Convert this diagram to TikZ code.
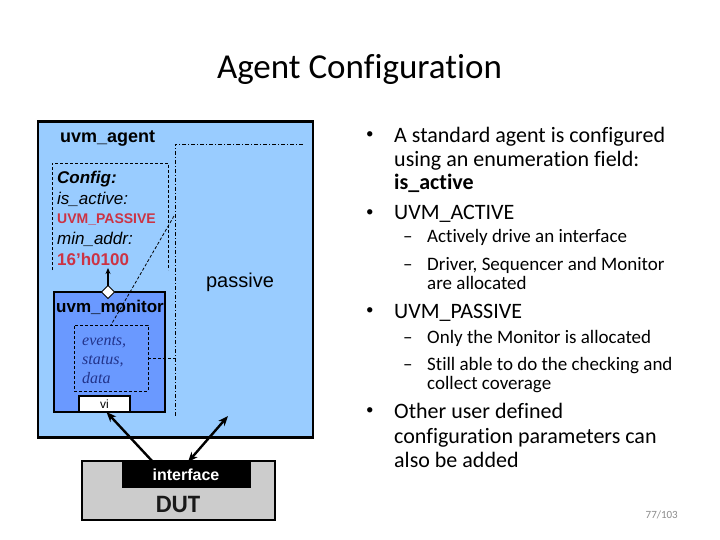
\documentclass[tikz,border=0pt]{standalone}
\usepackage{fontspec}
\setmainfont{Carlito}[Ligatures={TeX,NoCommon}]
\newfontfamily\arialfont{Liberation Sans}
\newfontfamily\timesfont{Liberation Serif}
\usetikzlibrary{arrows.meta,shapes.geometric}
\definecolor{agentblue}{HTML}{99CCFF}
\definecolor{monblue}{HTML}{6A99FF}
\definecolor{cfgred}{HTML}{CC3344}
\definecolor{evblue}{HTML}{22338A}
\definecolor{dutgray}{HTML}{CCCCCC}
\definecolor{pagegray}{HTML}{8C8C8C}
\newcommand{\fsz}[1]{\fontsize{#1}{#1}\selectfont}

\begin{document}
\begin{tikzpicture}[x=1pt,y=-1pt,
  box/.style={draw,inner sep=0pt,outer sep=0pt},
  cfgline/.style={line width=0.8pt,dash pattern=on 3pt off 2pt},
  passline/.style={line width=0.8pt,dash pattern=on 4pt off 2pt on 1pt off 2pt},
  link/.style={line width=2.4pt,-{Stealth[length=10pt,width=8pt]}},
  cfgtxt/.style={anchor=base west,inner sep=0pt,font=\arialfont\fsz{17}\itshape},
  cfgval/.style={anchor=base west,inner sep=0pt,text=cfgred,font=\arialfont\bfseries},
  evtxt/.style={anchor=base west,inner sep=0pt,text=evblue,font=\timesfont\itshape\fsz{16}},
  lvlone/.style={anchor=base west,inner sep=0pt,font=\fsz{22}},
  lvltwo/.style={anchor=base west,inner sep=0pt,font=\fsz{19}},
  dot/.style={anchor=base west,inner sep=0pt,font=\fsz{15}}]
  \useasboundingbox[fill=white] (0,0) rectangle (720,540);
  \def\Ag{(175.5,279.5)}
  \def\Mo{(109.5,352)}
  \def\Ev{(111,358)}
  \def\Vi{(104.5,404)}
  \def\Di{(108,292)}
  \def\Du{(178.5,490.5)}
  \def\If{(186,474.5)}
  \def\xa{394}
  \def\xb{427}

  \node[anchor=base] (title) at (359.5,79) {\fsz{35}Agent Configuration};

  \node[box,fill=agentblue,line width=2.6pt,minimum width=275pt,minimum height=316pt] (agent) at \Ag {};
  \node[anchor=base west,inner sep=0pt,font=\arialfont\bfseries\fsz{18}] (agentlbl) at (60,143) {uvm\_agent};

  \draw[cfgline] (52,270) -- (52,163) -- (168,163) -- (168,270);
  \node[cfgtxt,font=\arialfont\bfseries\itshape\fsz{17}] (cfg) at (57,184) {Config:};
  \node[cfgtxt] (isact) at (57,205) {is\_active:};
  \node[cfgval,font=\arialfont\bfseries\fsz{14}] (passval) at (57,224) {UVM\_PASSIVE};
  \node[cfgtxt] (minaddr) at (57,244) {min\_addr:};
  \node[cfgval,font=\arialfont\bfseries\fsz{17}] (addrval) at (57,265) {16’h0100};
  \coordinate (cfgend) at (108,268);

  \draw[passline] (303,144) -- (175,144) -- (175,416);
  \node[font=\arialfont\fsz{20}] (passive) at (240,282) {passive};
  \coordinate (diagtop) at (174,216);
  \coordinate (passpt) at (175,358);

  \node[box,fill=monblue,line width=2pt,minimum width=111pt,minimum height=120pt] (mon) at \Mo {};
  \node[anchor=base,inner sep=0pt,font=\arialfont\bfseries\fsz{17}] (monlbl) at (110,312) {uvm\_monitor};
  \node[box,cfgline,minimum width=74pt,minimum height=66pt] (evbox) at \Ev {};
  \node[evtxt] (events) at (82,345) {events,};
  \node[evtxt] (status) at (82,364) {status,};
  \node[evtxt] (data) at (82,383) {data};
  \node[box,fill=white,line width=1.6pt,minimum width=51pt,minimum height=16pt,font=\arialfont\fsz{12}] (vi) at \Vi {vi};
  \node[box,diamond,fill=white,line width=1pt,minimum size=13pt] (diam) at \Di {};

  \draw[cfgline] (diagtop) -- (evbox.north);
  \draw[cfgline] (evbox.east) -- (passpt);
  \draw[line width=1.6pt,-{Stealth[length=6pt,width=5pt]}] (diam.north) -- (cfgend);

  \node[box,fill=dutgray,line width=2pt,minimum width=193pt,minimum height=59pt] (dut) at \Du {};
  \node[box,fill=black,text=white,minimum width=128pt,minimum height=25pt,font=\arialfont\bfseries\fsz{16}] (intf) at \If {interface};
  \node[anchor=base,inner sep=0pt,text=black!90,font=\bfseries\fsz{25}] (dutlbl) at (178,512) {DUT};
  \coordinate (agentpt) at (228,416);

  \draw[link] ([xshift=31pt]intf.north west) -- ([xshift=2pt]vi.south);
  \draw[link,{Stealth[length=10pt,width=8pt]}-{Stealth[length=10pt,width=8pt]}] ([xshift=66pt]intf.north west) -- (agentpt);

  \node[dot] (ba) at (366,139) {•};
  \node[lvlone] (la) at (\xa,143) {A standard agent is configured};
  \node[lvlone] (lb) at (\xa,167) {using an enumeration field:};
  \node[lvlone] (lc) at (\xa,190) {\textbf{is\_active}};
  \node[dot] (bb) at (366,216) {•};
  \node[lvlone] (ld) at (\xa,220) {UVM\_ACTIVE};
  \node[lvltwo] (da) at (403,243) {–};
  \node[lvltwo] (le) at (\xb,243) {Actively drive an interface};
  \node[lvltwo] (db) at (403,270) {–};
  \node[lvltwo] (lf) at (\xb,270) {Driver, Sequencer and Monitor};
  \node[lvltwo] (lg) at (\xb,289) {are allocated};
  \node[dot] (bc) at (366,314) {•};
  \node[lvlone] (lh) at (\xa,318) {UVM\_PASSIVE};
  \node[lvltwo] (dc) at (403,343) {–};
  \node[lvltwo] (li) at (\xb,343) {Only the Monitor is allocated};
  \node[lvltwo] (dd) at (403,370) {–};
  \node[lvltwo] (lj) at (\xb,370) {Still able to do the checking and};
  \node[lvltwo] (lk) at (\xb,389) {collect coverage};
  \node[dot] (bd) at (366,414) {•};
  \node[lvlone] (ll) at (\xa,418) {Other user defined};
  \node[lvlone] (lm) at (\xa,443) {configuration parameters can};
  \node[lvlone] (ln) at (\xa,467) {also be added};

  \node[anchor=base east,inner sep=0pt,text=pagegray,font=\fsz{11}] (page) at (678,518) {77/103};
\end{tikzpicture}
\end{document}
